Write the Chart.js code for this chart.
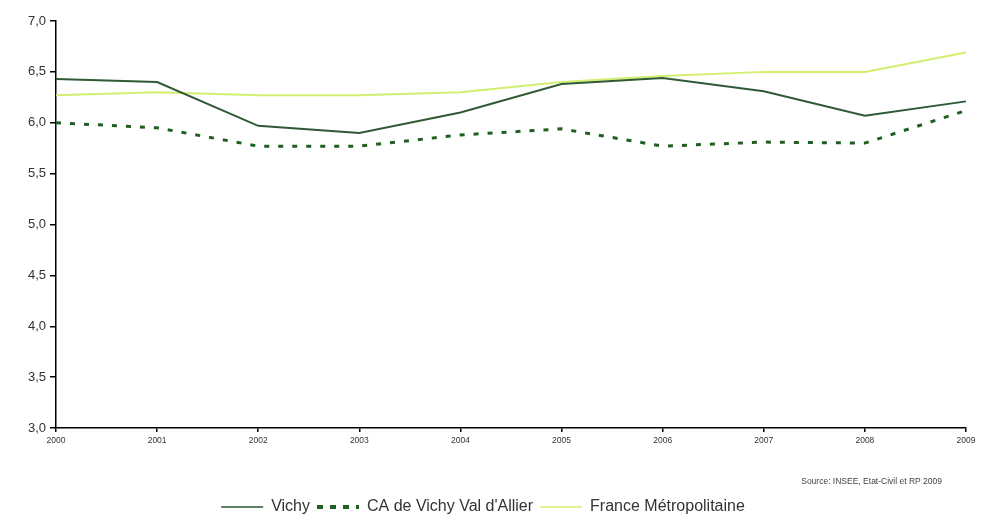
<!DOCTYPE html>
<html>
<head>
<meta charset="utf-8">
<script src="https://cdn.jsdelivr.net/npm/chart.js@4/dist/chart.umd.min.js"></script>
<style>
html,body{margin:0;padding:0;background:#fff;}
#wrap{width:981px;height:525px;position:relative;}
</style>
</head>
<body>
<div id="wrap"><canvas id="c" width="981" height="525"></canvas></div>
<script>
const years = ['2000','2001','2002','2003','2004','2005','2006','2007','2008','2009'];
const vichy = [6.43, 6.40, 5.97, 5.90, 6.10, 6.38, 6.44, 6.31, 6.07, 6.21];
const caVichy = [6.00, 5.95, 5.77, 5.77, 5.88, 5.94, 5.77, 5.81, 5.80, 6.12];
const france = [6.27, 6.30, 6.27, 6.27, 6.30, 6.40, 6.46, 6.50, 6.50, 6.69];
const seriesNames = ['Vichy', "CA de Vichy Val d'Allier", 'France Métropolitaine'];
const sourceText = 'Source: INSEE, Etat-Civil et RP 2009';

const sourcePlugin = {
  id: 'sourceText',
  afterDraw(chart) {
    const ctx = chart.ctx;
    ctx.save();
    ctx.font = '8.5px "Liberation Sans", sans-serif';
    ctx.fillStyle = '#444';
    ctx.textAlign = 'right';
    ctx.textBaseline = 'middle';
    ctx.fillText(sourceText, chart.chartArea.right - 24, chart.chartArea.bottom + 54);
    ctx.restore();
  }
};

new Chart(document.getElementById('c'), {
  type: 'line',
  data: {
    labels: years,
    datasets: [
      {label: seriesNames[0], data: vichy, borderColor: '#2f5a35', backgroundColor: '#2f5a35', borderWidth: 2, pointRadius: 0, tension: 0},
      {label: seriesNames[1], data: caVichy, borderColor: '#1f5f1f', backgroundColor: '#1f5f1f', borderWidth: 3, borderDash: [5, 9], pointRadius: 0, tension: 0},
      {label: seriesNames[2], data: france, borderColor: '#d2ef70', backgroundColor: '#d2ef70', borderWidth: 2, pointRadius: 0, tension: 0}
    ]
  },
  options: {
    responsive: false,
    animation: false,
    layout: {padding: {top: 21, right: 15, left: 0, bottom: 0}},
    plugins: {
      legend: {
        position: 'bottom',
        labels: {
          boxWidth: 42,
          boxHeight: 0,
          padding: 7,
          color: '#333',
          font: {family: '"Liberation Sans", sans-serif', size: 16},
          generateLabels(chart) {
            return chart.data.datasets.map((ds, i) => ({
              text: ds.label,
              fillStyle: 'rgba(0,0,0,0)',
              strokeStyle: ds.borderColor,
              lineWidth: ds.borderWidth === 3 ? 4 : 1.5,
              lineDash: i === 1 ? [6, 7] : [],
              fontColor: '#333',
              datasetIndex: i,
              hidden: false
            }));
          }
        }
      },
      tooltip: {enabled: false}
    },
    scales: {
      x: {
        offset: false,
        afterFit(s) { s.height = 64; },
        grid: {display: true, drawOnChartArea: false, drawTicks: true, tickLength: 4, color: '#000', lineWidth: 1.5},
        border: {display: true, color: '#000', width: 1.5},
        ticks: {color: '#333', font: {family: '"Liberation Sans", sans-serif', size: 8.5}, padding: 4, maxRotation: 0, autoSkip: false}
      },
      y: {
        min: 3, max: 7,
        afterFit(s) { s.width = 56; },
        grid: {display: true, drawOnChartArea: false, drawTicks: true, tickLength: 6, color: '#000', lineWidth: 1.5},
        border: {display: true, color: '#000', width: 1.5},
        ticks: {
          stepSize: 0.5,
          color: '#333',
          padding: 4,
          font: {family: '"Liberation Sans", sans-serif', size: 13},
          callback: v => v.toFixed(1).replace('.', ',')
        }
      }
    }
  },
  plugins: [sourcePlugin]
});
</script>
</body>
</html>
